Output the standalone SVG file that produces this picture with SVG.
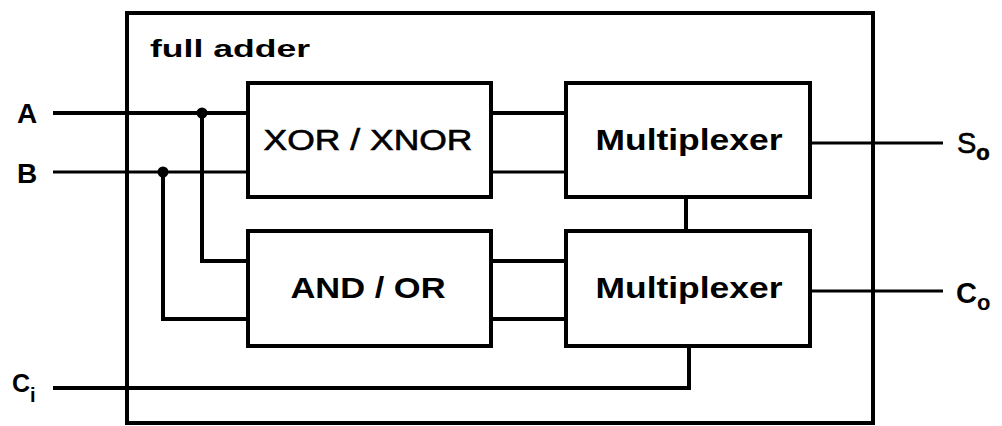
<svg xmlns="http://www.w3.org/2000/svg" width="1002" height="426" viewBox="0 0 1002 426">
<style>
.box{fill:#fff;stroke:#000;stroke-width:4}
.w{fill:none;stroke:#000;stroke-width:4;stroke-linecap:butt;stroke-linejoin:miter}
.t{stroke-width:3}
.lbl{font-family:"Liberation Sans",Arial,sans-serif;fill:#000;font-weight:bold}
.big{font-size:30px;text-anchor:middle}
</style>
<rect width="1002" height="426" fill="#fff"/>
<g id="full-adder">
<rect class="box" x="127" y="13" width="746" height="410" fill="none"/>
<text class="lbl" x="150" y="57" font-size="23" textLength="160" lengthAdjust="spacingAndGlyphs">full adder</text>
</g>
<g id="connectors">
<path class="w" d="M53 113H248"/>
<path class="w t" d="M53 172H248"/>
<path class="w" d="M202 113V261H248"/>
<path class="w" d="M163 172V319H248"/>
<path class="w" d="M491 113H566"/>
<path class="w t" d="M491 172H566"/>
<path class="w" d="M491 261H566"/>
<path class="w" d="M491 319H566"/>
<path class="w" d="M686 197V231"/>
<path class="w t" d="M810 143H943"/>
<path class="w t" d="M810 291H943"/>
<path class="w" d="M53 388H689V346"/>
<circle cx="202" cy="113" r="5.5" fill="#000"/>
<circle cx="163" cy="172" r="5.5" fill="#000"/>
</g>
<g id="xor">
<rect class="box" x="248" y="83" width="243" height="114"/>
<text class="lbl big" x="368" y="150" textLength="209" lengthAdjust="spacingAndGlyphs" style="font-weight:normal;stroke:#000;stroke-width:0.6">XOR / XNOR</text>
</g>
<g id="and">
<rect class="box" x="248" y="231" width="243" height="115"/>
<text class="lbl big" x="368" y="298" textLength="155" lengthAdjust="spacingAndGlyphs">AND / OR</text>
</g>
<g id="mux1">
<rect class="box" x="566" y="83" width="244" height="114"/>
<text class="lbl big" x="689" y="150" textLength="187" lengthAdjust="spacingAndGlyphs">Multiplexer</text>
</g>
<g id="mux2">
<rect class="box" x="566" y="231" width="244" height="115"/>
<text class="lbl big" x="689" y="298" textLength="187" lengthAdjust="spacingAndGlyphs">Multiplexer</text>
</g>
<g id="labels">
<text class="lbl" x="17" y="123" font-size="28">A</text>
<text class="lbl" x="17" y="183" font-size="28">B</text>
<text class="lbl" x="12" y="392" font-size="25">C<tspan font-size="20" dy="10">i</tspan></text>
<text class="lbl" x="957" y="153" font-size="29" style="font-weight:normal;stroke:#000;stroke-width:0.6">S<tspan font-size="22" dy="7" style="font-weight:bold">o</tspan></text>
<text class="lbl" x="956" y="303" font-size="29">C<tspan font-size="22" dy="7">o</tspan></text>
</g>
</svg>
